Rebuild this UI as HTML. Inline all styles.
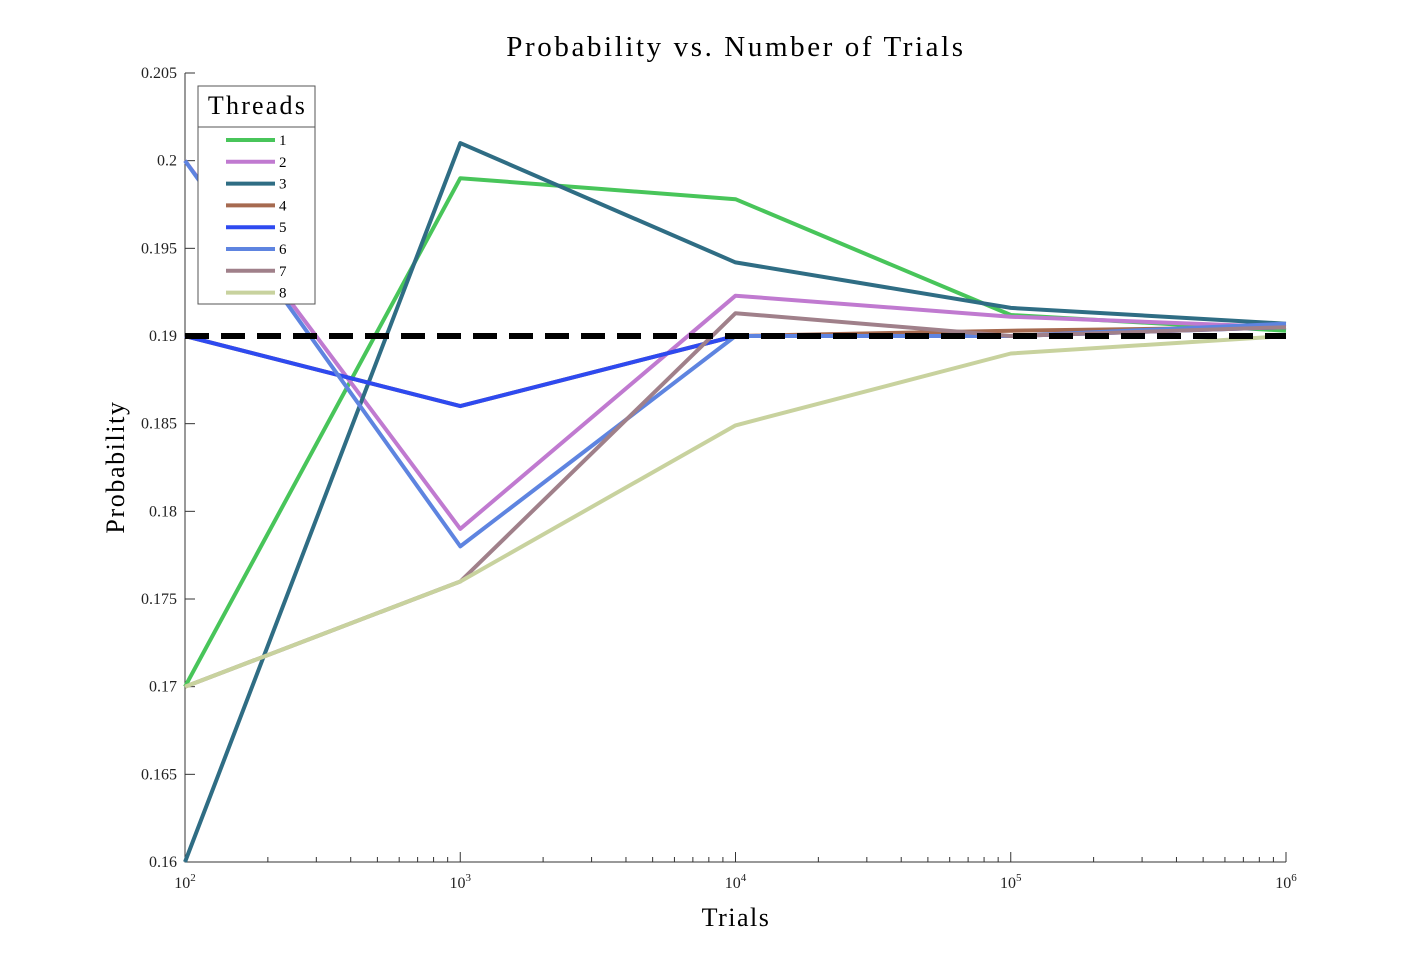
<!DOCTYPE html>
<html><head><meta charset="utf-8"><style>
body{margin:0;background:#fff;}
svg{display:block;font-family:"Liberation Serif",serif;}
</style></head><body>
<svg id="c" width="1422" height="968" xmlns="http://www.w3.org/2000/svg"></svg>
<script>
const trials = [100, 1000, 10000, 100000, 1000000];
const threadLabels = ["1","2","3","4","5","6","7","8"];
const colors = ["#48c55a","#c07ad0","#2f6d84","#a66a50","#2e4af0","#5e84e0","#a0808a","#c8d29e"];
const s1 = [0.17, 0.199, 0.1978, 0.1912, 0.1903];
const s2 = [0.2, 0.179, 0.1923, 0.1911, 0.1905];
const s3 = [0.16, 0.201, 0.1942, 0.1916, 0.1907];
const s4 = [0.19, 0.186, 0.19, 0.1903, 0.1905];
const s5 = [0.19, 0.186, 0.19, 0.19, 0.1905];
const s6 = [0.2, 0.178, 0.19, 0.19, 0.1907];
const s7 = [0.17, 0.176, 0.1913, 0.19, 0.1905];
const s8 = [0.17, 0.176, 0.1849, 0.189, 0.19];
const series = [s1,s2,s3,s4,s5,s6,s7,s8];
const reference = 0.19;
const yTicks = [0.16,0.165,0.17,0.175,0.18,0.185,0.19,0.195,0.2,0.205];
const yTickLabels = ["0.16","0.165","0.17","0.175","0.18","0.185","0.19","0.195","0.2","0.205"];
const xTickExp = [2,3,4,5,6];

const NS="http://www.w3.org/2000/svg";
const svg=document.getElementById('c');
const L=185,R=1286,T=73,B=862;
const xs=v=>L+(Math.log10(v)-2)/4*(R-L);
const ys=v=>B-(v-0.16)/0.045*(B-T);
function el(t,a,p){const e=document.createElementNS(NS,t);for(const k in a)e.setAttribute(k,a[k]);(p||svg).appendChild(e);return e;}

let e;
e=el('text',{x:736,y:56,'text-anchor':'middle','font-size':29,'letter-spacing':2.6});e.textContent="Probability vs. Number of Trials";

e=el('text',{x:736,y:926,'text-anchor':'middle','font-size':26,'letter-spacing':1.5});e.textContent="Trials";

e=el('text',{x:124,y:467,'text-anchor':'middle','font-size':26,'letter-spacing':1.6,transform:'rotate(-90 124 467)'});e.textContent="Probability";


// axes
e=el('path',{d:`M${L},${T}V${B}H${R}`,stroke:'#333',fill:'none','stroke-width':1});

yTicks.forEach((v,i)=>{
 const y=ys(v);
 const t=el('line',{x1:L,x2:L+10,y1:y,y2:y,stroke:'#333'});
 
 const tx=el('text',{x:L-8,y:y+5,'text-anchor':'end','font-size':16,fill:'#222'});tx.textContent=yTickLabels[i];
 
});
xTickExp.forEach((p,i)=>{
 const x=xs(Math.pow(10,p));
 const t=el('line',{x1:x,x2:x,y1:B,y2:B-10,stroke:'#333'});
 
 const tx=el('text',{x:x,y:B+26,'text-anchor':'middle','font-size':16,fill:'#222'});
 
 tx.textContent="10";const sp=el('tspan',{dy:-7,'font-size':11},tx);sp.textContent=String(p);
 if(i<xTickExp.length-1){for(let m=2;m<=9;m++){const xm=xs(m*Math.pow(10,p));
  const mt=el('line',{x1:xm,x2:xm,y1:B,y2:B-5,stroke:'#333'});
  }}
});

// series
series.forEach((s,i)=>{
 const d=s.map((v,j)=>(j?'L':'M')+xs(trials[j]).toFixed(1)+','+ys(v).toFixed(1)).join('');
 const p=el('path',{d:d,stroke:colors[i],'stroke-width':4,fill:'none','stroke-linejoin':'round'});
 
});
e=el('line',{x1:L,x2:R,y1:ys(reference),y2:ys(reference),stroke:'#000','stroke-width':6,'stroke-dasharray':'24 12'});


// legend
const g=el('g',{});
el('rect',{x:198,y:86,width:117,height:218,fill:'#fff',stroke:'#555'},g);
el('line',{x1:198,x2:315,y1:127,y2:127,stroke:'#555'},g);
e=el('text',{x:257.5,y:114,'text-anchor':'middle','font-size':26,'letter-spacing':2.2},g);e.textContent="Threads";

threadLabels.forEach((lab,i)=>{
 const y=140+i*21.8;
 const en=el('g',{},g);
 el('line',{x1:226,x2:275,y1:y,y2:y,stroke:colors[i],'stroke-width':4},en);
 const t=el('text',{x:279,y:y+5,'font-size':15},en);t.textContent=lab;
});
</script>
</body></html>
